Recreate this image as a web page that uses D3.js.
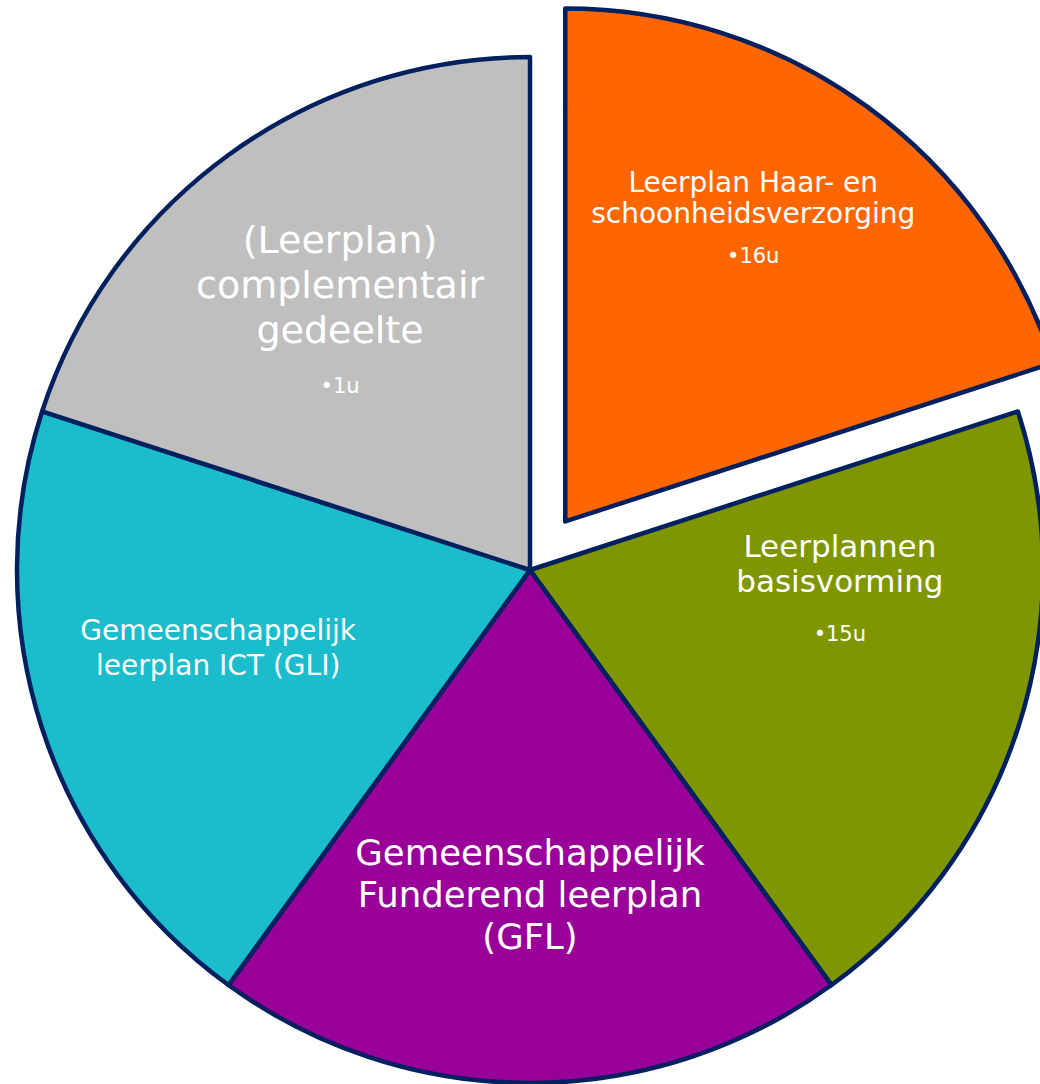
<!DOCTYPE html>
<html>
<head>
<meta charset="utf-8">
<script src="https://cdn.jsdelivr.net/npm/d3@7"></script>
<style>
  html, body { margin: 0; padding: 0; background: #ffffff; }
  svg { display: block; }
  text { font-family: "DejaVu Sans", sans-serif; fill: #ffffff; }
</style>
</head>
<body>
<div class="pie-container"></div>
<script>
// slices in clockwise order starting at 12 o'clock
const categories = [
  ["Leerplan Haar- en", "schoonheidsverzorging"],
  ["Leerplannen", "basisvorming"],
  ["Gemeenschappelijk", "Funderend leerplan", "(GFL)"],
  ["Gemeenschappelijk", "leerplan ICT (GLI)"],
  ["(Leerplan)", "complementair", "gedeelte"]
];
const values = [1, 1, 1, 1, 1];
const hours = ["16u", "15u", null, null, "1u"];
const colors = ["#FF6600", "#7F9600", "#990099", "#1BBCCB", "#BFBFBF"];
const explodedIndex = 0;

const width = 1040;
const height = 1084;
const cx = 530, cy = 570;
const radius = 513;
const explodeDist = 60;
const labelRadius = 330;

// text layout per slice: font size, line height, gap to bullet line, nudge from centroid
const fontSizes = [28, 31, 35.5, 28, 38];
const lineHeights = [31, 35, 42, 35, 45];
const bulletGaps = [40, 49, 0, 0, 50];
const nudges = [[-6, -62], [-4, -115], [0, -35], [2, -32], [4, -50]];

const svg = d3.select(".pie-container")
  .append("svg")
  .attr("width", width)
  .attr("height", height);

const pie = d3.pie().sort(null).value(d => d);
const arcs = pie(values);

const arc = d3.arc().innerRadius(0).outerRadius(radius);
const labelArc = d3.arc().innerRadius(labelRadius).outerRadius(labelRadius);

function shift(d, i) {
  if (i !== explodedIndex) return [0, 0];
  const mid = (d.startAngle + d.endAngle) / 2;
  return [explodeDist * Math.sin(mid), -explodeDist * Math.cos(mid)];
}

const g = svg.append("g").attr("transform", "translate(" + cx + "," + cy + ")");

g.selectAll("path")
  .data(arcs)
  .enter()
  .append("path")
  .attr("d", arc)
  .attr("transform", (d, i) => "translate(" + shift(d, i).join(",") + ")")
  .attr("fill", (d, i) => colors[i])
  .attr("stroke", "#002060")
  .attr("stroke-width", 4.5)
  .attr("stroke-linejoin", "round");

arcs.forEach(function(d, i) {
  const c = labelArc.centroid(d);
  const s = shift(d, i);
  const x = c[0] + s[0] + nudges[i][0];
  const y = c[1] + s[1] + nudges[i][1];
  const lines = categories[i];
  const label = g.append("text")
    .attr("text-anchor", "middle")
    .style("font-size", fontSizes[i] + "px");
  lines.forEach(function(line, j) {
    label.append("tspan")
      .attr("x", x)
      .attr("y", y + j * lineHeights[i])
      .text(line);
  });
  if (hours[i]) {
    g.append("text")
      .attr("text-anchor", "middle")
      .attr("x", x)
      .attr("y", y + (lines.length - 1) * lineHeights[i] + bulletGaps[i])
      .style("font-size", "21px")
      .text("\u2022" + hours[i]);
  }
});
</script>
</body>
</html>
